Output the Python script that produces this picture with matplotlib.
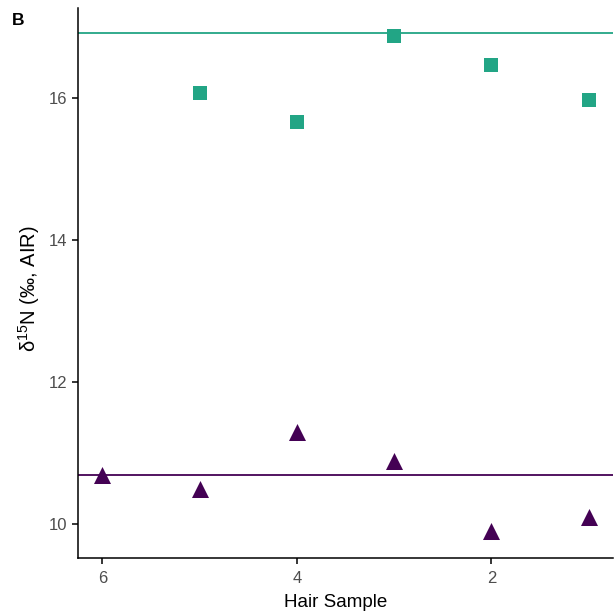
import matplotlib
matplotlib.use("Agg")
import matplotlib.pyplot as plt

plt.rcParams["font.family"] = ["Liberation Sans", "DejaVu Sans"]
plt.rcParams["mathtext.fontset"] = "custom"
plt.rcParams["mathtext.rm"] = "Liberation Sans"

# hair samples, numbered from root outward
hair_sample = [6, 5, 4, 3, 2, 1]
d15n_high = [None, 16.07, 15.66, 16.87, 16.46, 15.97]
d15n_low = [10.69, 10.49, 11.30, 10.89, 9.90, 10.10]
ref_high = 16.92
ref_low = 10.69

teal = "#22A585"
purple = "#440154"
grey = "#4D4D4D"

fig = plt.figure(figsize=(6.16, 6.14), dpi=100)
ax = fig.add_axes([0.1266, 0.0912, 0.8684, 0.8958])

xs = [x for x, v in zip(hair_sample, d15n_high) if v is not None]
ys = [v for v in d15n_high if v is not None]
ax.scatter(xs, ys, marker="s", s=110, color=teal, linewidths=0, zorder=3)
ax.scatter(hair_sample, d15n_low, marker="^", s=150, color=purple, linewidths=0, zorder=3)
ax.axhline(ref_high, color=teal, lw=1.3, zorder=2)
ax.axhline(ref_low, color=purple, lw=1.3, zorder=2)

ax.set_xlim(6.25, 0.75)
ax.set_ylim(9.52, 17.27)
ax.set_xticks([6, 4, 2])
ax.set_yticks([10, 12, 14, 16])

for side in ["top", "right"]:
    ax.spines[side].set_visible(False)
for side in ["left", "bottom"]:
    ax.spines[side].set_linewidth(1.1)
ax.tick_params(colors="black", labelcolor=grey, labelsize=12, length=4, width=1.1)
ax.tick_params(axis="x", pad=5)

ax.set_xlabel("Hair Sample", fontsize=13.5)
ax.xaxis.set_label_coords(0.481, -0.066)
ax.set_ylabel(r"δ$^{\mathregular{15}}$N (‰, AIR)", fontsize=14.5)
ax.yaxis.set_label_coords(-0.067, 0.49)

fig.text(0.019, 0.967, "B", fontsize=12.5, fontweight="bold", va="center")

fig.savefig("out.png", dpi=100)
